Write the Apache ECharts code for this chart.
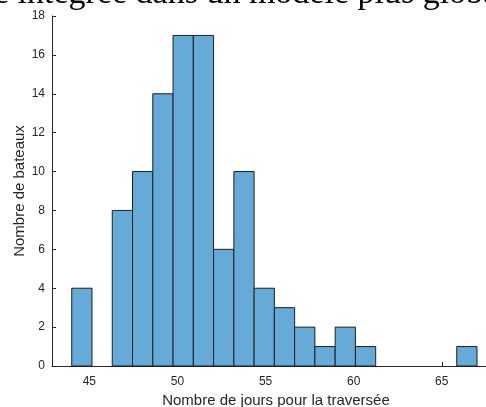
<!DOCTYPE html>
<html>
<head>
<meta charset="utf-8">
<script src="https://cdn.jsdelivr.net/npm/echarts@6/dist/echarts.min.js"></script>
<style>html,body{margin:0;padding:0;background:#fff;}#c{width:486px;height:407px;}</style>
</head>
<body>
<div id="c"></div>
<script>
// Histogram bin edges (days) and counts (boats)
const binEdges = [44, 45.15, 46.3, 47.45, 48.6, 49.75, 50.9, 52.05, 53.2, 54.35, 55.5, 56.65, 57.8, 58.95, 60.1, 61.25, 62.4, 63.55, 64.7, 65.85, 67];
const counts = [4, 0, 8, 10, 14, 17, 17, 6, 10, 4, 3, 2, 1, 2, 1, 0, 0, 0, 0, 1];
const xTickValues = [45, 50, 55, 60, 65];
const xAxisName = 'Nombre de jours pour la traversée';
const yAxisName = 'Nombre de bateaux';
const headerText = 'e intégrée dans un modèle plus global';

const data = counts.map((c, i) => [binEdges[i], binEdges[i + 1], c]);

const chart = echarts.init(document.getElementById('c'), null, {renderer: 'canvas'});
chart.setOption({
  animation: false,
  backgroundColor: '#ffffff',
  textStyle: {fontFamily: '"Liberation Sans", Arial, sans-serif'},
  graphic: [{
    type: 'text',
    x: -6,
    y: -23,
    silent: true,
    style: {
      text: headerText,
      font: '34px "Liberation Serif", "Times New Roman", serif',
      fill: '#000000',
      textAlign: 'left',
      textVerticalAlign: 'top'
    }
  }],
  grid: {left: 52, top: 16, right: 0, bottom: 41, containLabel: false, outerBoundsMode: 'none'},
  xAxis: {
    type: 'value',
    min: 42.88,
    max: 67.51,
    name: xAxisName,
    nameLocation: 'middle',
    nameGap: 27.5,
    nameMoveOverlap: false,
    nameTextStyle: {fontSize: 15, color: '#262626', padding: [0, 0, 0, 14], fontFamily: '"Liberation Sans", Arial, sans-serif'},
    axisLine: {show: true, onZero: false, lineStyle: {color: '#262626', width: 1}},
    axisTick: {show: true, inside: true, length: 4, customValues: xTickValues, lineStyle: {color: '#262626'}},
    axisLabel: {customValues: xTickValues, fontSize: 12, color: '#262626', margin: 10, fontFamily: '"Liberation Sans", Arial, sans-serif'},
    splitLine: {show: false}
  },
  yAxis: {
    type: 'value',
    min: 0,
    max: 18,
    interval: 2,
    name: yAxisName,
    nameLocation: 'middle',
    nameGap: 25,
    nameMoveOverlap: false,
    nameTextStyle: {fontSize: 15, color: '#262626', fontFamily: '"Liberation Sans", Arial, sans-serif'},
    axisLine: {show: true, lineStyle: {color: '#262626', width: 1}},
    axisTick: {show: true, inside: true, length: 4, lineStyle: {color: '#262626'}},
    axisLabel: {fontSize: 12, color: '#262626', margin: 7, fontFamily: '"Liberation Sans", Arial, sans-serif'},
    splitLine: {show: false}
  },
  series: [{
    type: 'custom',
    clip: false,
    encode: {x: [0, 1], y: 2},
    data: data,
    renderItem: function (params, api) {
      const x0 = api.value(0), x1 = api.value(1), c = api.value(2);
      if (!c) return null;
      const p0 = api.coord([x0, c]);
      const p1 = api.coord([x1, 0]);
      return {
        type: 'rect',
        shape: {x: p0[0], y: p0[1], width: p1[0] - p0[0], height: p1[1] - p0[1]},
        style: {fill: '#66AAD7', stroke: '#1f1f1f', lineWidth: 1}
      };
    }
  }]
});
</script>
</body>
</html>
